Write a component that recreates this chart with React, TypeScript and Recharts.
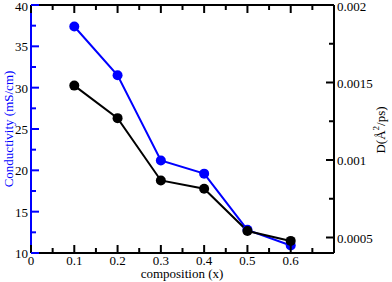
import { LineChart, Line, XAxis, YAxis, Label } from 'recharts';

const compositions = [0.1, 0.2, 0.3, 0.4, 0.5, 0.6];
const conductivity = [37.4, 31.5, 21.2, 19.6, 12.8, 10.9];
const diffusion = [0.00148, 0.00127, 0.000868, 0.000815, 0.000542, 0.000478];

const xTicks = [0, 0.05, 0.1, 0.15, 0.2, 0.25, 0.3, 0.35, 0.4, 0.45, 0.5, 0.55, 0.6, 0.65, 0.7];
const leftTicks = [10, 12.5, 15, 17.5, 20, 22.5, 25, 27.5, 30, 32.5, 35, 37.5, 40];
const rightTicks = [0.0005, 0.00075, 0.001, 0.00125, 0.0015, 0.00175, 0.002];

const data = compositions.map((x, i) => ({
  x,
  cond: conductivity[i],
  d: diffusion[i],
}));

const FONT = '"Liberation Serif", "DejaVu Serif", serif';
const BLUE = '#0000ff';

const isMajorX = (v: number) => Math.round(v * 100) % 10 === 0;

function BottomTick({ x, y, payload }: any) {
  const v = payload.value;
  const major = isMajorX(v);
  const len = major ? 8 : 5;
  return (
    <g>
      <line x1={x} x2={x} y1={y} y2={y - len} stroke="#000" strokeWidth={2} />
      {major && v < 0.65 && (
        <text x={x} y={y + 12} textAnchor="middle" fontFamily={FONT} fontSize={13} fill="#000">
          {v === 0 ? '0' : v.toFixed(1)}
        </text>
      )}
    </g>
  );
}

function TopTick({ x, y, payload }: any) {
  const len = isMajorX(payload.value) ? 8 : 5;
  return <line x1={x} x2={x} y1={y} y2={y + len} stroke="#000" strokeWidth={2} />;
}

function LeftTick({ x, y, payload }: any) {
  const v = payload.value;
  const major = v % 5 === 0;
  return (
    <g>
      <line x1={x} x2={x + (major ? 8 : 5)} y1={y} y2={y} stroke={BLUE} strokeWidth={2} />
      {major && (
        <text x={x - 3} y={Math.max(y + 5, 11)} textAnchor="end" fontFamily={FONT} fontSize={13} fill="#000">
          {v}
        </text>
      )}
    </g>
  );
}

function RightTick({ x, y, payload }: any) {
  const v = payload.value;
  const major = Math.round(v * 1e5) % 50 === 0;
  const label = Number(v.toFixed(5)).toString();
  return (
    <g>
      <line x1={x} x2={x - (major ? 8 : 5)} y1={y} y2={y} stroke="#000" strokeWidth={2} />
      {major && (
        <text x={x + 3} y={Math.max(y + 5, 11)} textAnchor="start" fontFamily={FONT} fontSize={13} fill="#000">
          {label}
        </text>
      )}
    </g>
  );
}

export default function App() {
  return (
    <div style={{ position: 'absolute', left: 0, top: 0, background: '#fff' }}>
      <LineChart width={392} height={282} data={data} margin={{ top: 4, right: 0, bottom: 0, left: 0 }}>
        <XAxis
          dataKey="x"
          type="number"
          domain={[0, 0.7]}
          ticks={xTicks}
          interval={0}
          tickSize={0}
          tickMargin={0}
          tickLine={false}
          tick={<BottomTick />}
          height={29}
          axisLine={{ stroke: '#000', strokeWidth: 2 }}
        >
          <Label
            content={() => (
              <text x={182} y={278} textAnchor="middle" fontFamily={FONT} fontSize={13} fill="#000">
                composition (x)
              </text>
            )}
          />
        </XAxis>
        <XAxis
          xAxisId="top"
          orientation="top"
          dataKey="x"
          type="number"
          domain={[0, 0.7]}
          ticks={xTicks}
          interval={0}
          tickSize={0}
          tickMargin={0}
          tickLine={false}
          tick={<TopTick />}
          height={1}
          axisLine={{ stroke: '#000', strokeWidth: 2 }}
        />
        <YAxis
          yAxisId="left"
          domain={[10, 40]}
          ticks={leftTicks}
          interval={0}
          tickSize={0}
          tickMargin={0}
          tickLine={false}
          tick={<LeftTick />}
          width={31}
          axisLine={{ stroke: BLUE, strokeWidth: 2 }}
        >
          <Label
            content={() => (
              <text
                transform="translate(13,129) rotate(-90)"
                textAnchor="middle"
                fontFamily={FONT}
                fontSize={13}
                fill={BLUE}
              >
                Conductivity (mS/cm)
              </text>
            )}
          />
        </YAxis>
        <YAxis
          yAxisId="right"
          orientation="right"
          domain={[0.0004, 0.002]}
          ticks={rightTicks}
          interval={0}
          tickSize={0}
          tickMargin={0}
          tickLine={false}
          tick={<RightTick />}
          width={58}
          axisLine={{ stroke: '#000', strokeWidth: 2 }}
        >
          <Label
            content={() => (
              <text
                transform="translate(385,130) rotate(-90)"
                textAnchor="middle"
                fontFamily={FONT}
                fontSize={13}
                fill="#000"
              >
                D(Å<tspan dy={-6} fontSize={9}>2</tspan>
                <tspan dy={6}>/ps)</tspan>
              </text>
            )}
          />
        </YAxis>
        <Line
          yAxisId="left"
          dataKey="cond"
          stroke={BLUE}
          strokeWidth={2}
          dot={{ r: 5, fill: BLUE, stroke: BLUE, strokeWidth: 0 }}
          isAnimationActive={false}
        />
        <Line
          yAxisId="right"
          dataKey="d"
          stroke="#000"
          strokeWidth={2}
          dot={{ r: 5, fill: '#000', stroke: '#000', strokeWidth: 0 }}
          isAnimationActive={false}
        />
      </LineChart>
    </div>
  );
}
